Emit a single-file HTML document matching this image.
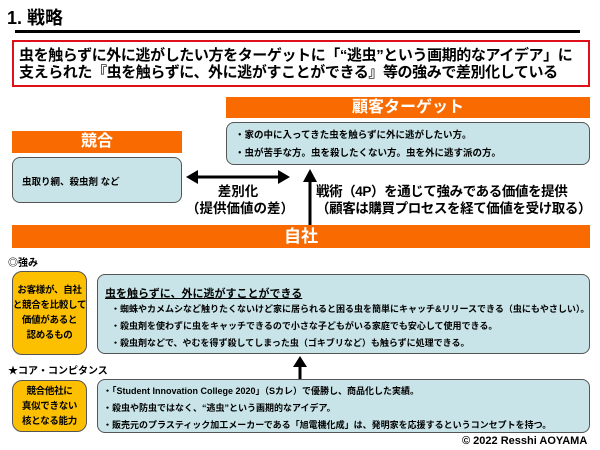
<!DOCTYPE html>
<html><head><meta charset="utf-8"><style>
*{margin:0;padding:0;box-sizing:border-box}
body{width:600px;height:450px;background:#fff;position:relative;overflow:hidden;font-family:"Liberation Sans","Noto Sans CJK JP",sans-serif;font-weight:bold;color:#000}
.a{position:absolute;white-space:nowrap}
.bar{position:absolute;background:#f96a00;color:#fff;text-align:center;font-size:16px}
.blue{position:absolute;background:#c8e4e8;border:1.5px solid #555;border-radius:8px}
.yel{position:absolute;background:#fcc000;border:1.5px solid #555;border-radius:10px;font-size:9.5px;letter-spacing:-0.3px;text-align:center;line-height:15px;display:flex;align-items:center;justify-content:center;white-space:nowrap}
.s{font-size:9.5px}
</style></head><body>
<div class="a" style="left:7px;top:4px;font-size:18px">1. 戦略</div>
<div class="a" style="left:15px;top:30px;width:565px;height:3px;background:#000"></div>
<div class="a" style="left:12px;top:40px;width:578px;height:47px;border:2px solid #e0101a"></div>
<div class="a" style="left:19px;top:47px;font-size:15px;letter-spacing:-0.4px;line-height:17px">虫を触らずに外に逃がしたい方をターゲットに「“逃虫”という画期的なアイデア」に<br>支えられた『虫を触らずに、外に逃がすことができる』等の強みで差別化している</div>
<div class="bar" style="left:226px;top:97px;width:364px;height:21px;line-height:21px">顧客ターゲット</div>
<div class="blue" style="left:226px;top:122px;width:364px;height:43px"></div>
<div class="a s" style="left:235px;top:127px;line-height:18px">・家の中に入ってきた虫を触らずに外に逃がしたい方。<br>・虫が苦手な方。虫を殺したくない方。虫を外に逃す派の方。</div>
<div class="bar" style="left:12px;top:131px;width:170px;height:22px;line-height:22px">競合</div>
<div class="blue" style="left:12px;top:157px;width:170px;height:46px"></div>
<div class="a s" style="left:22px;top:174px">虫取り網、殺虫剤 など</div>
<svg class="a" style="left:0;top:0" width="600" height="450">
<line x1="196" y1="177" x2="280" y2="177" stroke="#000" stroke-width="3"/>
<polygon points="186,177 198,170 198,184" fill="#000"/>
<polygon points="290,177 278,170 278,184" fill="#000"/>
<line x1="310" y1="180" x2="310" y2="226" stroke="#000" stroke-width="3"/>
<polygon points="310,169 303,182 317,182" fill="#000"/>
<line x1="300" y1="363" x2="300" y2="380" stroke="#000" stroke-width="3"/>
<polygon points="300,356 293,367 307,367" fill="#000"/>
</svg>
<div class="a" style="left:186px;top:183px;width:104px;text-align:center;font-size:13.5px;line-height:17px">差別化<br>（提供価値の差）</div>
<div class="a" style="left:316px;top:183px;font-size:13.5px;letter-spacing:-0.4px;line-height:17px">戦術（4P）を通じて強みである価値を提供<br>（顧客は購買プロセスを経て価値を受け取る）</div>
<div class="bar" style="left:12px;top:225px;width:578px;height:23px;line-height:23px;font-size:17px">自社</div>
<div class="a" style="left:8px;top:254px;font-size:10px">◎強み</div>
<div class="yel" style="left:12px;top:271px;width:75px;height:84px">お客様が、自社<br>と競合を比較して<br>価値があると<br>認めるもの</div>
<div class="blue" style="left:97px;top:274px;width:493px;height:80px"></div>
<div class="a" style="left:105px;top:285px;font-size:11px;text-decoration:underline">虫を触らずに、外に逃がすことができる</div>
<div class="a" style="left:111px;top:301px;font-size:9px;line-height:17px">・蜘蛛やカメムシなど触りたくないけど家に居られると困る虫を簡単にキャッチ&amp;リリースできる（虫にもやさしい）。<br>・殺虫剤を使わずに虫をキャッチできるので小さな子どもがいる家庭でも安心して使用できる。<br>・殺虫剤などで、やむを得ず殺してしまった虫（ゴキブリなど）も触らずに処理できる。</div>
<div class="a" style="left:8px;top:362px;font-size:10px">★コア・コンピタンス</div>
<div class="yel" style="left:12px;top:380px;width:75px;height:52px">競合他社に<br>真似できない<br>核となる能力</div>
<div class="blue" style="left:97px;top:379px;width:493px;height:54px"></div>
<div class="a" style="left:103px;top:383px;font-size:9px;line-height:17px">・「Student Innovation College 2020」（Sカレ）で優勝し、商品化した実績。<br>・殺虫や防虫ではなく、“逃虫”という画期的なアイデア。<br>・販売元のプラスティック加工メーカーである「旭電機化成」は、発明家を応援するというコンセプトを持つ。</div>
<div class="a" style="left:462px;top:435px;font-size:11px">© 2022 Resshi AOYAMA</div>
</body></html>
